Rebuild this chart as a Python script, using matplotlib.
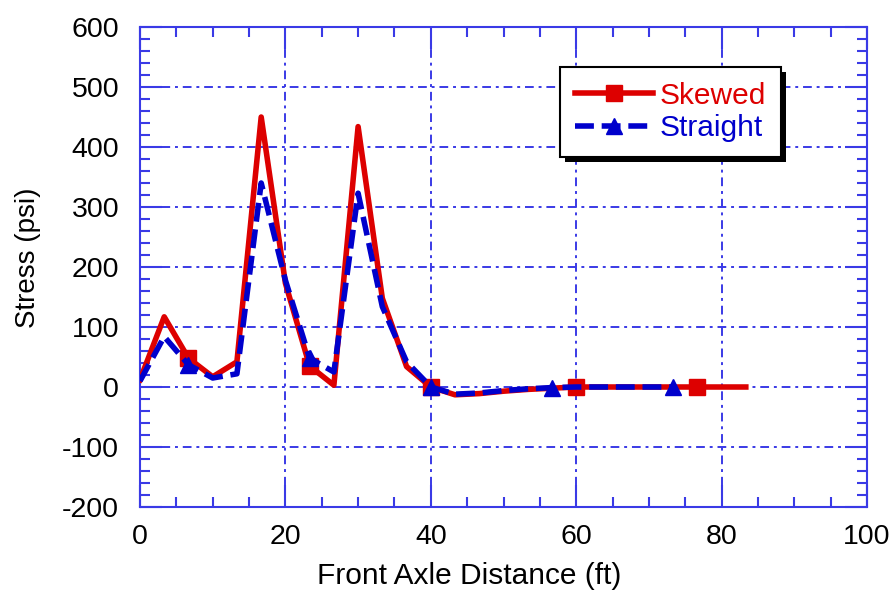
import matplotlib
matplotlib.use("Agg")
import matplotlib.pyplot as plt
from matplotlib.patches import Rectangle
from matplotlib.ticker import MultipleLocator
from matplotlib.transforms import IdentityTransform

plt.rcParams['font.family'] = ['Liberation Sans', 'DejaVu Sans']
plt.rcParams['axes.unicode_minus'] = False

# front axle position (ft) and stress (psi)
axle_ft = [0, 3.33, 6.67, 10, 13.33, 16.67, 20, 23.33, 26.67, 30, 33.33, 36.67, 40,
           43.33, 46.67, 50, 53.33, 56.67, 60, 63.33, 66.67, 70, 73.33, 76.67, 80, 83.33]
skewed = [12, 117, 48, 17, 42, 450, 173, 35, 3, 434, 148, 34, 0,
          -13, -11, -7, -4, -2, 0, 0, 0, 0, 0, 0, 0, 0]
straight = [10, 84, 37, 15, 22, 340, 178, 48, 25, 323, 134, 42, 0,
            -12, -10, -6, -3, -1, 0, 0, 0, 0, 0]
skewed_marks = [2, 7, 12, 18, 23]
straight_marks = [2, 7, 12, 17, 22]

frame_col = '#3a3ae6'
red = '#dd0000'
blue = '#0000cc'

fig = plt.figure(figsize=(8.96, 5.90), dpi=100)
ax = fig.add_axes([140/896, 1 - 507/590, 727/896, 480/590])

ax.plot(axle_ft, skewed, color=red, lw=4, marker='s', ms=11,
        markevery=skewed_marks, label='Skewed', zorder=3)
ax.plot(axle_ft[:len(straight)], straight, color=blue, lw=4,
        linestyle=(0, (3.4, 1.4)), marker='^', ms=11,
        markevery=straight_marks, label='Straight', zorder=4)

ax.set_xlim(0, 100)
ax.set_ylim(-200, 600)
ax.xaxis.set_major_locator(MultipleLocator(20))
ax.xaxis.set_minor_locator(MultipleLocator(5))
ax.yaxis.set_major_locator(MultipleLocator(100))
ax.yaxis.set_minor_locator(MultipleLocator(20))

ax.grid(True, which='major', color=frame_col, lw=1.4,
        linestyle=(0, (4.5, 2.5, 1.5, 2.5)), zorder=1)
for s in ax.spines.values():
    s.set_color(frame_col)
    s.set_linewidth(1.5)

ax.tick_params(which='both', direction='in', top=True, right=True,
               color=frame_col, width=1.5, labelsize=20.5, labelcolor='black')
ax.tick_params(which='major', length=16)
ax.tick_params(which='minor', length=7)
ax.tick_params(axis='y', pad=15)
ax.tick_params(axis='x', pad=12)

ax.set_xlabel('Front Axle Distance (ft)', fontsize=21.5, va='baseline')
ax.xaxis.set_label_coords((469 - 140) / 727, (507 - 584) / 480)
ax.set_ylabel('Stress (psi)', fontsize=20, va='baseline')
ax.yaxis.set_label_coords((35 - 140) / 727, (507 - 258) / 480)

leg = ax.legend(loc='upper left', bbox_to_anchor=(560/896, 1 - 67/590),
                bbox_transform=fig.transFigure, borderaxespad=0, fontsize=21.5,
                fancybox=False, framealpha=1, edgecolor='black',
                handlelength=2.6, handletextpad=0.25, labelspacing=0.15,
                borderpad=0.5)
leg.get_frame().set_linewidth(1.5)
leg.set_zorder(6)
for txt, col in zip(leg.get_texts(), [red, blue]):
    txt.set_color(col)

# drop shadow behind the legend box
fig.canvas.draw()
bb = leg.get_window_extent()
shadow = Rectangle((bb.x0 + 5, bb.y0 - 5), bb.width, bb.height, facecolor='black',
                   edgecolor='none', transform=IdentityTransform(), clip_on=False, zorder=5.5)
ax.add_patch(shadow)

fig.savefig('out.png', dpi=100)
